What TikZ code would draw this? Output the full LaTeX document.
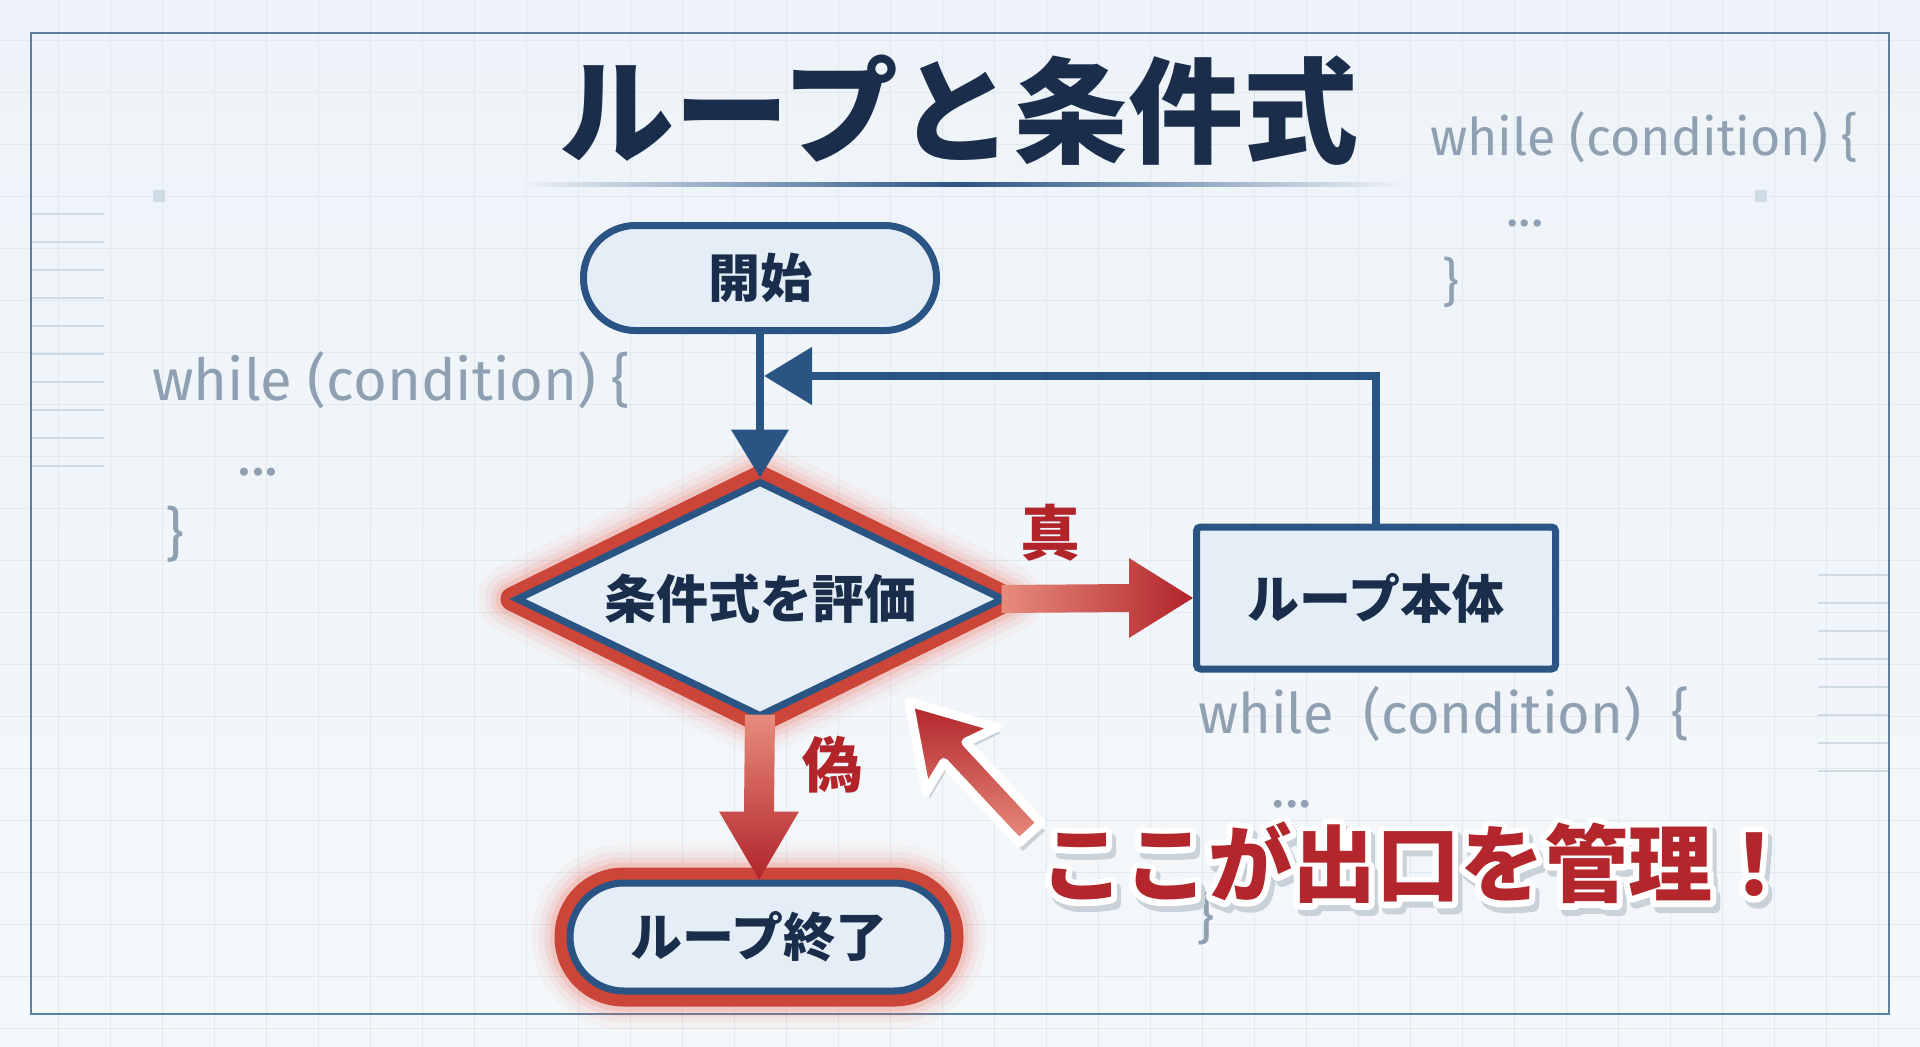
\documentclass[tikz,border=0pt]{standalone}
\usepackage{fontspec}
\usetikzlibrary{shapes.geometric,arrows.meta,calc}
\newfontfamily\jp{Noto Sans CJK JP}
\newfontfamily\codefont{Fira Sans}
\newcommand\jpnode{\jp\bfseries\fontsize{52}{60}\selectfont}
\newcommand\strokedtext[2]{\special{pdf:literal direct 1 j 1 Tr #1 w}#2\special{pdf:literal direct 0 Tr}}
\definecolor{navy}{HTML}{2A5484}
\definecolor{ink}{HTML}{1A2E4C}
\definecolor{nodefill}{HTML}{E5EEF7}
\definecolor{bgtop}{HTML}{EDF3F8}
\definecolor{bgbot}{HTML}{F4F8FB}
\definecolor{gridc}{HTML}{E1E9F0}
\definecolor{tickc}{HTML}{CFDBE5}
\definecolor{framec}{HTML}{5A80A3}
\definecolor{codec}{HTML}{8EA0B2}
\definecolor{redband}{HTML}{CB4539}
\definecolor{glowred}{HTML}{F0604C}
\definecolor{reddark}{HTML}{B0242A}
\definecolor{redlight}{HTML}{E88C7C}
\definecolor{calloutred}{HTML}{B3262B}
\definecolor{shadowc}{HTML}{C9D1D9}
\pgfdeclarelayer{bg}
\pgfdeclarelayer{glow}
\pgfsetlayers{bg,glow,main}
\begin{document}
\begin{tikzpicture}[x=1pt,y=-1pt,
  term/.style={rectangle, rounded corners=52pt, draw=navy, line width=7pt, fill=nodefill, text=ink, font=\jpnode, inner sep=0pt, minimum width=353pt, minimum height=105pt},
  decision/.style={diamond, aspect=2.07, draw=navy, line width=7pt, fill=nodefill, text=ink, font=\jpnode, inner sep=0pt, minimum width=488pt, minimum height=236pt},
  proc/.style={rectangle, rounded corners=4pt, draw=navy, line width=7pt, fill=nodefill, text=ink, font=\jpnode, inner sep=0pt, minimum width=359pt, minimum height=142pt},
  navyline/.style={draw=navy, line width=8pt, -{Triangle[length=48pt,width=56pt]}},
  code/.style={text=codec, font=\codefont\fontsize{54}{60}\selectfont, inner sep=0pt},
  lbl/.style={text=reddark, font=\jp\bfseries\fontsize{60}{64}\selectfont, inner sep=0pt},
  callfont/.style={font=\jp\bfseries\fontsize{84}{90}\selectfont, inner sep=0pt},
  gridline/.style={draw=gridc, line width=1pt},
  tick/.style={draw=tickc, line width=1.5pt}
]
\path[use as bounding box] (0,0) rectangle (1920,1047);
\begin{pgfonlayer}{bg}
  \fill[top color=bgtop, bottom color=bgbot] (0,0) rectangle (1920,1047);
  \foreach \x in {58,110,...,1900} \draw[gridline] (\x,0) -- (\x,1047);
  \foreach \y in {40,92,...,1047} \draw[gridline] (0,\y) -- (1920,\y);
  \foreach \y in {214,242,...,490} \draw[tick] (31,\y) -- (104,\y);
  \foreach \y in {575,603,...,785} \draw[tick] (1818,\y) -- (1889,\y);
  \fill[tickc] (153,190) rectangle (165,202);
  \fill[tickc] (1755,190) rectangle (1767,202);
  \draw[framec, line width=2pt] (31,33) rectangle (1889,1014);
  % background code fragments
  \node[code, anchor=base west, font=\codefont\fontsize{52}{60}\selectfont] (c1) at (1430,155) {while (condition) \{};
  \node[code, font=\codefont\fontsize{52}{60}\selectfont] (c1d) at (1525,224) {...};
  \node[code, font=\codefont\fontsize{52}{60}\selectfont] (c1e) at (1451,282) {\}};
  \node[code, anchor=base west, font=\codefont\fontsize{58}{60}\selectfont] (c2) at (152,400) {while (condition) \{};
  \node[code, font=\codefont\fontsize{58}{60}\selectfont] (c2d) at (258,472) {...};
  \node[code, font=\codefont\fontsize{58}{60}\selectfont] (c2e) at (175,534) {\}};
  \node[code, anchor=base west, font=\codefont\fontsize{56}{60}\selectfont] (c3) at (1198,733) {while\ \ (condition)\ \ \{};
  \node[code, font=\codefont\fontsize{56}{60}\selectfont] (c3d) at (1292,804) {...};
  \node[code, font=\codefont\fontsize{56}{60}\selectfont] (c3e) at (1206,918) {\}};
\end{pgfonlayer}

% title
\node[text=ink, font=\jp\bfseries\fontsize{115}{120}\selectfont, inner sep=0pt] (title) at (959,110) {ループと条件式};
\path[left color=bgtop, right color=bgtop, middle color=navy] (520,182) rectangle (1402,186);

% nodes
\node[term] (start) at (760,278) {開始};
\node[decision] (cond) at (760,599) {条件式を評価};
\node[proc] (body) at (1376,598) {ループ本体};
\node[term, minimum width=378pt, minimum height=108pt, rounded corners=54pt] (end) at (759,937) {ループ終了};

% glow and red bands
\begin{pgfonlayer}{glow}
  \foreach \w/\o in {70/0.05,56/0.07,44/0.10,34/0.14}{
    \draw[glowred, line width=\w pt, opacity=\o, line join=round] (cond.north) -- (cond.east) -- (cond.south) -- (cond.west) -- cycle;
    \draw[glowred, line width=\w pt, opacity=\o, rounded corners=57pt] (end.south west) rectangle (end.north east);
  }
  \draw[redband, line width=24pt, line join=round] (cond.north) -- (cond.east) -- (cond.south) -- (cond.west) -- cycle;
  \draw[redband, line width=24pt, rounded corners=57pt] (end.south west) rectangle (end.north east);
\end{pgfonlayer}

% navy connectors
\coordinate (join) at (764,376);
\draw[navyline] (start.south) -- (cond.north);
\draw[navyline] (body.north) |- (join);

% true arrow
\path[left color=redlight, right color=reddark]
  ($(cond.east)+(-6,-14)$) -- ($(body.west)+(-64,-14)$) -- ($(body.west)+(-64,-40)$) -- (body.west)
  -- ($(body.west)+(-64,40)$) -- ($(body.west)+(-64,14)$) -- ($(cond.east)+(-6,14)$) -- cycle;
% false arrow
\path[top color=redlight, bottom color=reddark]
  ($(cond.south)+(-15,-6)$) -- ($(end.north)+(-15,-68)$) -- ($(end.north)+(-40,-68)$) -- (end.north)
  -- ($(end.north)+(40,-68)$) -- ($(end.north)+(15,-68)$) -- ($(cond.south)+(15,-6)$) -- cycle;

\node[lbl] (ltrue) at (1050,533) {真};
\node[lbl] (lfalse) at (832,765) {偽};

% callout arrow
\coordinate (tip) at (909,702);
\fill[shadowc] (913,708) -- (1001,733) -- (970,748) -- (1045,831) -- (1023,851) -- (948,768) -- (930,798) -- cycle;
\path[draw=white, line width=9pt, line join=round, top color=reddark, bottom color=redlight]
  (tip) -- (997,727.4) -- (965.9,742.2) -- (1041,823) -- (1019,843) -- (943.7,762.4) -- (926,792) -- cycle;

% callout text: shadow, white outline, red fill
\node[callfont, text=shadowc] (calloutshadow) at (1422,869) {\strokedtext{12}{ここが出口を管理！}};
\node[callfont, text=white] (calloutrim) at (1418,863) {\strokedtext{12}{ここが出口を管理！}};
\node[callfont, text=calloutred] (callout) at (1418,863) {ここが出口を管理！};
\end{tikzpicture}
\end{document}
